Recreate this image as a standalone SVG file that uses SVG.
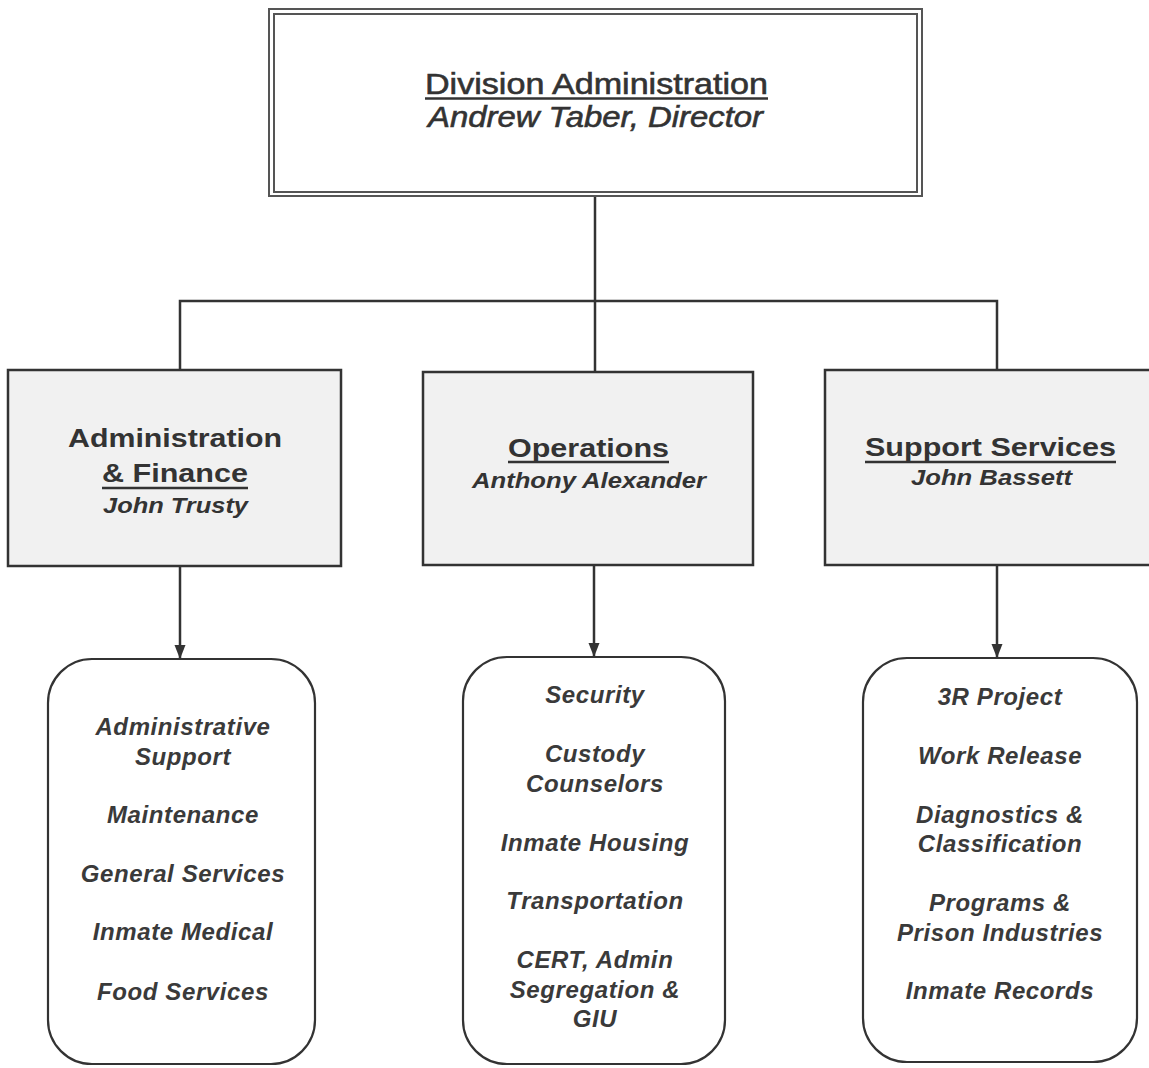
<svg xmlns="http://www.w3.org/2000/svg" width="1149" height="1068" viewBox="0 0 1149 1068">
<defs>
<marker id="arr" markerUnits="userSpaceOnUse" markerWidth="14" markerHeight="14" viewBox="0 0 14 14" refX="14" refY="7" orient="auto">
<path d="M0,1.5 L14,7 L0,12.5 Z" fill="#333"/>
</marker>
<style>
.frame{fill:#fff;stroke:#555;stroke-width:2}
.mid{fill:#f1f1f1;stroke:#333;stroke-width:2.5}
.list{fill:#fff;stroke:#333;stroke-width:2.2}
.conn{fill:none;stroke:#333;stroke-width:2.5}
.ul{stroke:#333;stroke-width:2.5}
text{font-family:"Liberation Sans",Arial,sans-serif;fill:#333;text-anchor:middle}
.h1{font-size:30px;stroke:#333;stroke-width:0.6}
.h1i{font-size:30px;font-style:italic;stroke:#333;stroke-width:0.6}
.h2{font-size:26px;font-weight:bold}
.h2i{font-size:22px;font-weight:bold;font-style:italic}
.it{font-size:24px;font-weight:bold;font-style:italic;letter-spacing:0.6px;fill:#3a3a3a}
</style>
</defs>
<rect width="1149" height="1068" fill="#fff"/>
<g id="connectors">
<path class="conn" d="M595,196 V301"/>
<path class="conn" d="M180,372 V301 H997 V372"/>
<path class="conn" d="M595,301 V372"/>
<path class="conn" d="M180,566 V659" marker-end="url(#arr)"/>
<path class="conn" d="M594,565 V657" marker-end="url(#arr)"/>
<path class="conn" d="M997,565 V658" marker-end="url(#arr)"/>
</g>
<g id="division-administration">
<rect class="frame" x="269" y="9" width="653" height="187"/>
<rect class="frame" x="274" y="14" width="643" height="178"/>
<text class="h1" x="596.5" y="94" textLength="343" lengthAdjust="spacingAndGlyphs">Division Administration</text>
<line class="ul" x1="425" y1="98.5" x2="768" y2="98.5"/>
<text class="h1i" x="595.5" y="127" textLength="335" lengthAdjust="spacingAndGlyphs">Andrew Taber, Director</text>
</g>
<g id="administration-finance">
<rect class="mid" x="8" y="370" width="333" height="196"/>
<text class="h2" x="175" y="447" textLength="214" lengthAdjust="spacingAndGlyphs">Administration</text>
<text class="h2" x="175" y="482" textLength="146" lengthAdjust="spacingAndGlyphs">&amp; Finance</text>
<line class="ul" x1="102" y1="488" x2="248" y2="488"/>
<text class="h2i" x="175.5" y="513" textLength="145" lengthAdjust="spacingAndGlyphs">John Trusty</text>
</g>
<g id="operations">
<rect class="mid" x="423" y="372" width="330" height="193"/>
<text class="h2" x="588.5" y="457" textLength="161" lengthAdjust="spacingAndGlyphs">Operations</text>
<line class="ul" x1="508" y1="462" x2="669" y2="462"/>
<text class="h2i" x="589" y="488" textLength="234" lengthAdjust="spacingAndGlyphs">Anthony Alexander</text>
</g>
<g id="support-services">
<rect class="mid" x="825" y="370" width="340" height="195"/>
<text class="h2" x="990.5" y="456" textLength="251" lengthAdjust="spacingAndGlyphs">Support Services</text>
<line class="ul" x1="865" y1="462" x2="1116" y2="462"/>
<text class="h2i" x="991.5" y="485" textLength="161" lengthAdjust="spacingAndGlyphs">John Bassett</text>
</g>
<g id="admin-finance-units">
<rect class="list" x="48" y="659" width="267" height="405" rx="44" ry="44"/>
<text class="it" x="183" y="735">Administrative</text>
<text class="it" x="183" y="765">Support</text>
<text class="it" x="183" y="823">Maintenance</text>
<text class="it" x="183" y="882">General Services</text>
<text class="it" x="183" y="940">Inmate Medical</text>
<text class="it" x="183" y="1000">Food Services</text>
</g>
<g id="operations-units">
<rect class="list" x="463" y="657" width="262" height="407" rx="44" ry="44"/>
<text class="it" x="595" y="703">Security</text>
<text class="it" x="595" y="762">Custody</text>
<text class="it" x="595" y="792">Counselors</text>
<text class="it" x="595" y="851">Inmate Housing</text>
<text class="it" x="595" y="909">Transportation</text>
<text class="it" x="595" y="968">CERT, Admin</text>
<text class="it" x="595" y="998">Segregation &amp;</text>
<text class="it" x="595" y="1027">GIU</text>
</g>
<g id="support-services-units">
<rect class="list" x="863" y="658" width="274" height="404" rx="44" ry="44"/>
<text class="it" x="1000" y="705">3R Project</text>
<text class="it" x="1000" y="764">Work Release</text>
<text class="it" x="1000" y="823">Diagnostics &amp;</text>
<text class="it" x="1000" y="852">Classification</text>
<text class="it" x="1000" y="911">Programs &amp;</text>
<text class="it" x="1000" y="941">Prison Industries</text>
<text class="it" x="1000" y="999">Inmate Records</text>
</g>
</svg>
